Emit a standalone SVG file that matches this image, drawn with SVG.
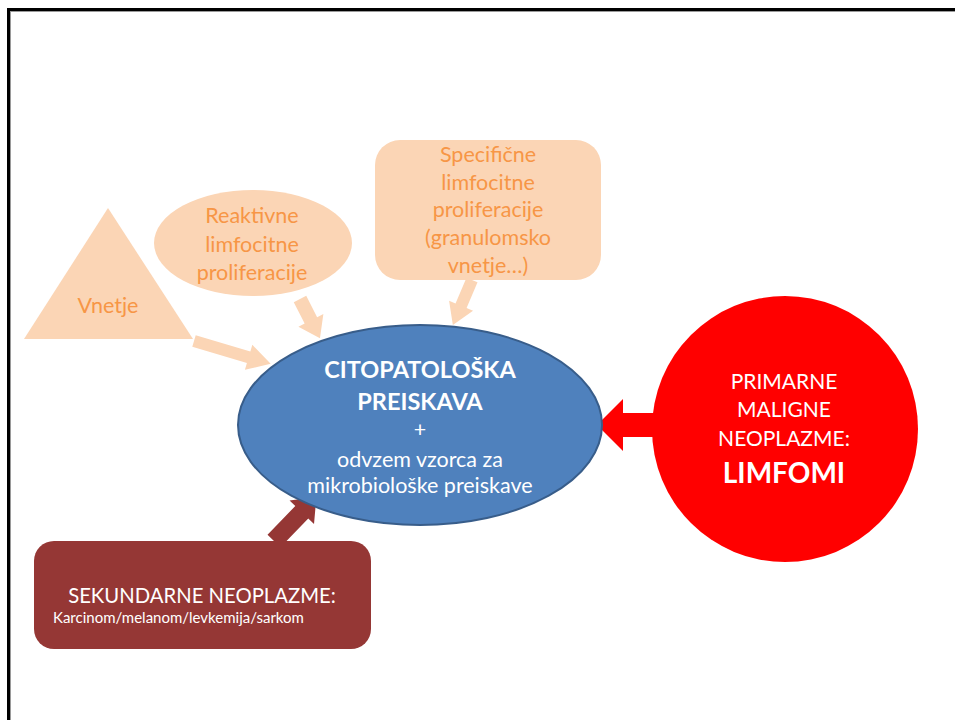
<svg xmlns="http://www.w3.org/2000/svg" width="955" height="720" viewBox="0 0 955 720">
<defs>
<style>
text{font-family:Lato,"Open Sans","Liberation Sans",sans-serif;text-anchor:middle}
.pe{fill:#FBD5B5}
.ot{fill:#F79646;font-size:21.5px}
.wt{fill:#FFFFFF}
</style>
</defs>
<rect x="0" y="0" width="955" height="720" fill="#FFFFFF"/>
<rect x="8.5" y="9.5" width="980" height="730" fill="none" stroke="#000000" stroke-width="3"/>
<rect x="10.5" y="11.5" width="980" height="730" fill="none" stroke="#9a9a9a" stroke-width="1"/>

<g id="connectors">
<polygon class="pe" transform="translate(194,341) rotate(16.6)" points="0,-6 57,-6 57,-13 80,0 57,13 57,6 0,6"/>
<polygon class="pe" transform="translate(300,299) rotate(63)" points="0,-7 24,-7 24,-14 44,0 24,14 24,7 0,7"/>
<polygon class="pe" transform="translate(472,280) rotate(113)" points="0,-6 28,-6 28,-13 49,0 28,13 28,6 0,6"/>
<polygon fill="#953735" transform="translate(274,541) rotate(-46)" points="0,-9 40,-9 40,-17 61,0 40,17 40,9 0,9"/>
<polygon fill="#FF0000" points="597,425 623,399 623,413 665,413 665,437 623,437 623,451"/>
</g>

<g id="vnetje">
<polygon class="pe" points="108,208 193,339 24,339"/>
<text class="ot" x="108" y="313">Vnetje</text>
</g>

<g id="reaktivne">
<ellipse class="pe" cx="253" cy="243" rx="99" ry="53"/>
<text class="ot" x="252" y="223">Reaktivne</text>
<text class="ot" x="252" y="252">limfocitne</text>
<text class="ot" x="252" y="280">proliferacije</text>
</g>

<g id="specificne">
<rect class="pe" x="375" y="140" width="226" height="140" rx="25"/>
<text class="ot" x="488" y="162">Specifične</text>
<text class="ot" x="488" y="190">limfocitne</text>
<text class="ot" x="488" y="217">proliferacije</text>
<text class="ot" x="488" y="245">(granulomsko</text>
<text class="ot" x="488" y="273">vnetje…)</text>
</g>

<g id="citopatoloska">
<ellipse cx="420" cy="425" rx="182" ry="100" fill="#4F81BD" stroke="#385D8A" stroke-width="2"/>
<text class="wt" x="420" y="378" font-size="23.5" font-weight="bold">CITOPATOLOŠKA</text>
<text class="wt" x="420" y="410" font-size="23.5" font-weight="bold">PREISKAVA</text>
<text class="wt" x="420" y="437" font-size="21.5">+</text>
<text class="wt" x="420" y="467" font-size="21.5">odvzem vzorca za</text>
<text class="wt" x="420" y="493" font-size="21.5">mikrobiološke preiskave</text>
</g>

<g id="limfomi">
<circle cx="785" cy="429" r="133" fill="#FF0000"/>
<text class="wt" x="784" y="389" font-size="21">PRIMARNE</text>
<text class="wt" x="784" y="417" font-size="21">MALIGNE</text>
<text class="wt" x="784" y="446" font-size="21">NEOPLAZME:</text>
<text class="wt" x="784" y="483" font-size="28" font-weight="bold">LIMFOMI</text>
</g>

<g id="sekundarne">
<rect x="34" y="541" width="337" height="108" rx="20" fill="#953735"/>
<text class="wt" x="202" y="603" font-size="20.3">SEKUNDARNE NEOPLAZME:</text>
<text class="wt" x="53" y="623" font-size="15" style="text-anchor:start">Karcinom/melanom/levkemija/sarkom</text>
</g>
</svg>
